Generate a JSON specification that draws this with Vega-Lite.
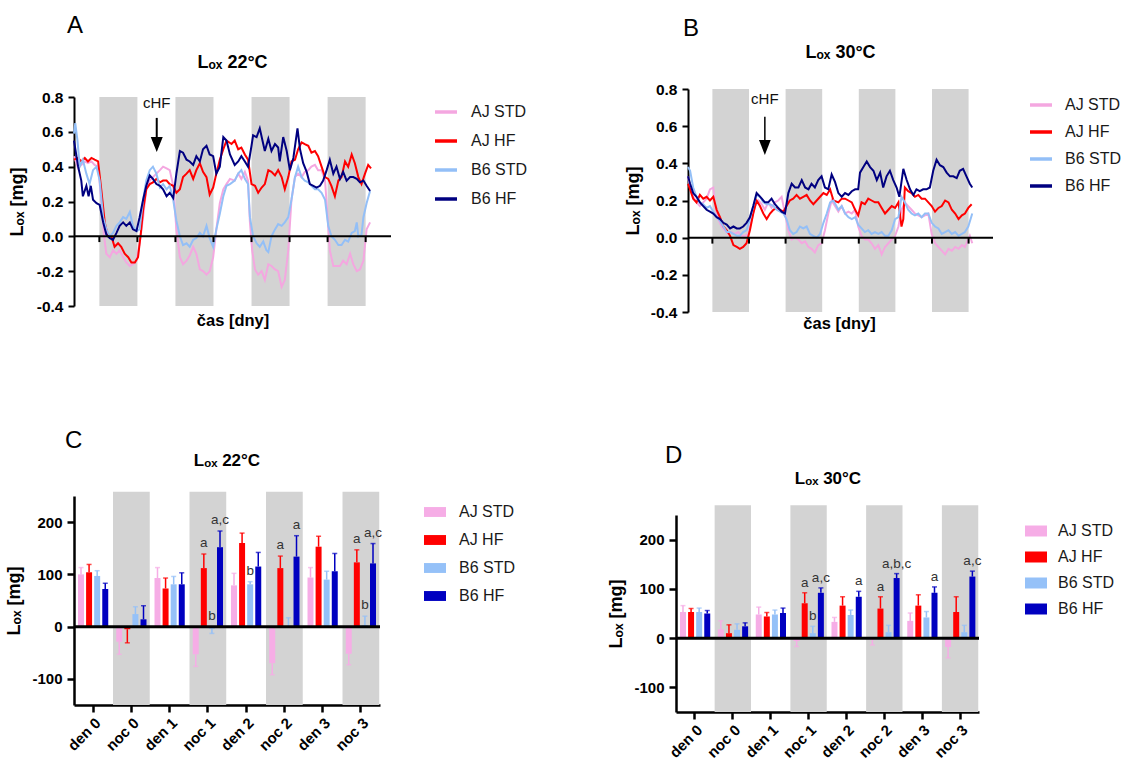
{
"$schema": "https://vega.github.io/schema/vega-lite/v6.json",
"background": "white",
"padding": {"left": 5, "top": 13, "right": 5, "bottom": 0},
"config": {
  "font": "Liberation Sans",
  "view": {"stroke": null},
  "axis": {"grid": false, "labelColor": "black", "titleColor": "black", "domainColor": "black", "tickColor": "black", "labelFontWeight": "bold", "titleFontWeight": "bold", "labelFontSize": 15.5, "titleFontSize": 16.5, "domainWidth": 2, "tickWidth": 2, "tickSize": 6, "labelPadding": 5, "titlePadding": 8, "labelOverlap": false},
  "legend": {"labelFontSize": 16, "labelColor": "#1a1a1a"},
  "title": {"color": "black"}
},
"datasets": {
  "nights": [{"s":8,"e":20},{"s":32,"e":44},{"s":56,"e":68},{"s":80,"e":92}],
  "tk": [{"t":8},{"t":20},{"t":32},{"t":44},{"t":56},{"t":68},{"t":80},{"t":92}],
  "nocs": [{"c":"noc 0"},{"c":"noc 1"},{"c":"noc 2"},{"c":"noc 3"}],
  "lineA": [
{"g":"AJ STD","h":0,"v":0.46},{"g":"AJ STD","h":1.3,"v":0.39},{"g":"AJ STD","h":2.3,"v":0.41},{"g":"AJ STD","h":3.4,"v":0.43},{"g":"AJ STD","h":4.4,"v":0.42},{"g":"AJ STD","h":5.5,"v":0.43},{"g":"AJ STD","h":6.5,"v":0.41},{"g":"AJ STD","h":7.6,"v":0.40},{"g":"AJ STD","h":8.6,"v":0.21},{"g":"AJ STD","h":9.5,"v":0},{"g":"AJ STD","h":10.2,"v":-0.10},{"g":"AJ STD","h":11.3,"v":-0.12},{"g":"AJ STD","h":12.3,"v":-0.08},{"g":"AJ STD","h":13.4,"v":-0.10},{"g":"AJ STD","h":14.4,"v":-0.08},{"g":"AJ STD","h":15.5,"v":-0.12},{"g":"AJ STD","h":16.5,"v":-0.15},{"g":"AJ STD","h":17.6,"v":-0.17},{"g":"AJ STD","h":18.6,"v":-0.16},{"g":"AJ STD","h":19.7,"v":-0.14},{"g":"AJ STD","h":20.7,"v":-0.04},{"g":"AJ STD","h":21.8,"v":0.11},{"g":"AJ STD","h":22.8,"v":0.27},{"g":"AJ STD","h":23.9,"v":0.32},{"g":"AJ STD","h":24.9,"v":0.34},{"g":"AJ STD","h":26,"v":0.36},{"g":"AJ STD","h":27.1,"v":0.38},{"g":"AJ STD","h":28.1,"v":0.40},{"g":"AJ STD","h":29.2,"v":0.39},{"g":"AJ STD","h":30.2,"v":0.38},{"g":"AJ STD","h":31.3,"v":0.29},{"g":"AJ STD","h":32.3,"v":0.04},{"g":"AJ STD","h":33.4,"v":-0.12},{"g":"AJ STD","h":34.4,"v":-0.16},{"g":"AJ STD","h":35.5,"v":-0.14},{"g":"AJ STD","h":36.5,"v":-0.11},{"g":"AJ STD","h":37.6,"v":-0.06},{"g":"AJ STD","h":38.6,"v":-0.10},{"g":"AJ STD","h":39.7,"v":-0.19},{"g":"AJ STD","h":40.7,"v":-0.20},{"g":"AJ STD","h":41.8,"v":-0.22},{"g":"AJ STD","h":42.8,"v":-0.20},{"g":"AJ STD","h":43.9,"v":-0.12},{"g":"AJ STD","h":44.9,"v":0.04},{"g":"AJ STD","h":46,"v":0.19},{"g":"AJ STD","h":47.1,"v":0.27},{"g":"AJ STD","h":48.1,"v":0.30},{"g":"AJ STD","h":49.2,"v":0.33},{"g":"AJ STD","h":50.7,"v":0.32},{"g":"AJ STD","h":51.8,"v":0.36},{"g":"AJ STD","h":52.8,"v":0.33},{"g":"AJ STD","h":53.9,"v":0.37},{"g":"AJ STD","h":54.9,"v":0.32},{"g":"AJ STD","h":55.5,"v":0.08},{"g":"AJ STD","h":56.2,"v":-0.08},{"g":"AJ STD","h":57.1,"v":-0.19},{"g":"AJ STD","h":58.1,"v":-0.22},{"g":"AJ STD","h":59.2,"v":-0.20},{"g":"AJ STD","h":60.2,"v":-0.25},{"g":"AJ STD","h":61.3,"v":-0.16},{"g":"AJ STD","h":62.3,"v":-0.17},{"g":"AJ STD","h":63.4,"v":-0.19},{"g":"AJ STD","h":64.4,"v":-0.20},{"g":"AJ STD","h":65.5,"v":-0.29},{"g":"AJ STD","h":66.5,"v":-0.25},{"g":"AJ STD","h":67.6,"v":-0.08},{"g":"AJ STD","h":68.6,"v":0.21},{"g":"AJ STD","h":69.7,"v":0.34},{"g":"AJ STD","h":70.7,"v":0.36},{"g":"AJ STD","h":71.8,"v":0.34},{"g":"AJ STD","h":72.8,"v":0.37},{"g":"AJ STD","h":73.9,"v":0.38},{"g":"AJ STD","h":74.9,"v":0.40},{"g":"AJ STD","h":76,"v":0.41},{"g":"AJ STD","h":77,"v":0.38},{"g":"AJ STD","h":78.1,"v":0.38},{"g":"AJ STD","h":79.2,"v":0.32},{"g":"AJ STD","h":80,"v":0.11},{"g":"AJ STD","h":80.7,"v":-0.08},{"g":"AJ STD","h":81.8,"v":-0.17},{"g":"AJ STD","h":82.8,"v":-0.17},{"g":"AJ STD","h":83.9,"v":-0.17},{"g":"AJ STD","h":84.9,"v":-0.14},{"g":"AJ STD","h":86,"v":-0.16},{"g":"AJ STD","h":87.1,"v":-0.10},{"g":"AJ STD","h":88.1,"v":-0.16},{"g":"AJ STD","h":89.2,"v":-0.20},{"g":"AJ STD","h":90.2,"v":-0.19},{"g":"AJ STD","h":91.3,"v":-0.14},{"g":"AJ STD","h":92.3,"v":0.04},{"g":"AJ STD","h":93.4,"v":0.08},
{"g":"AJ HF","h":0,"v":0.44},{"g":"AJ HF","h":1.3,"v":0.45},{"g":"AJ HF","h":2.3,"v":0.43},{"g":"AJ HF","h":3.4,"v":0.45},{"g":"AJ HF","h":4.4,"v":0.43},{"g":"AJ HF","h":5.5,"v":0.45},{"g":"AJ HF","h":6.5,"v":0.44},{"g":"AJ HF","h":7.6,"v":0.43},{"g":"AJ HF","h":8.6,"v":0.27},{"g":"AJ HF","h":9.7,"v":0.08},{"g":"AJ HF","h":10.7,"v":0},{"g":"AJ HF","h":11.8,"v":0},{"g":"AJ HF","h":12.8,"v":-0.06},{"g":"AJ HF","h":13.9,"v":-0.04},{"g":"AJ HF","h":14.9,"v":-0.06},{"g":"AJ HF","h":16,"v":-0.10},{"g":"AJ HF","h":17.1,"v":-0.12},{"g":"AJ HF","h":18.1,"v":-0.15},{"g":"AJ HF","h":19.2,"v":-0.15},{"g":"AJ HF","h":20.2,"v":-0.12},{"g":"AJ HF","h":21.1,"v":0.02},{"g":"AJ HF","h":21.8,"v":0.15},{"g":"AJ HF","h":22.8,"v":0.27},{"g":"AJ HF","h":23.9,"v":0.30},{"g":"AJ HF","h":24.9,"v":0.31},{"g":"AJ HF","h":26,"v":0.33},{"g":"AJ HF","h":27.1,"v":0.31},{"g":"AJ HF","h":28.1,"v":0.32},{"g":"AJ HF","h":29.2,"v":0.32},{"g":"AJ HF","h":30.2,"v":0.30},{"g":"AJ HF","h":31.3,"v":0.29},{"g":"AJ HF","h":32.3,"v":0.25},{"g":"AJ HF","h":33.4,"v":0.27},{"g":"AJ HF","h":34.4,"v":0.34},{"g":"AJ HF","h":35.5,"v":0.36},{"g":"AJ HF","h":36.5,"v":0.38},{"g":"AJ HF","h":37.6,"v":0.33},{"g":"AJ HF","h":38.6,"v":0.38},{"g":"AJ HF","h":39.7,"v":0.42},{"g":"AJ HF","h":40.7,"v":0.37},{"g":"AJ HF","h":41.8,"v":0.34},{"g":"AJ HF","h":42.8,"v":0.24},{"g":"AJ HF","h":43.9,"v":0.28},{"g":"AJ HF","h":44.9,"v":0.36},{"g":"AJ HF","h":46,"v":0.44},{"g":"AJ HF","h":47.1,"v":0.50},{"g":"AJ HF","h":48.1,"v":0.55},{"g":"AJ HF","h":49.7,"v":0.53},{"g":"AJ HF","h":50.7,"v":0.55},{"g":"AJ HF","h":51.8,"v":0.50},{"g":"AJ HF","h":52.8,"v":0.51},{"g":"AJ HF","h":53.9,"v":0.47},{"g":"AJ HF","h":54.9,"v":0.44},{"g":"AJ HF","h":56,"v":0.30},{"g":"AJ HF","h":57.1,"v":0.29},{"g":"AJ HF","h":58.1,"v":0.25},{"g":"AJ HF","h":59.2,"v":0.28},{"g":"AJ HF","h":60.2,"v":0.30},{"g":"AJ HF","h":61.3,"v":0.38},{"g":"AJ HF","h":62.3,"v":0.37},{"g":"AJ HF","h":63.4,"v":0.35},{"g":"AJ HF","h":64.4,"v":0.38},{"g":"AJ HF","h":65.5,"v":0.34},{"g":"AJ HF","h":66.5,"v":0.27},{"g":"AJ HF","h":67.6,"v":0.34},{"g":"AJ HF","h":68.6,"v":0.43},{"g":"AJ HF","h":69.7,"v":0.44},{"g":"AJ HF","h":70.7,"v":0.50},{"g":"AJ HF","h":71.8,"v":0.54},{"g":"AJ HF","h":72.8,"v":0.53},{"g":"AJ HF","h":73.9,"v":0.52},{"g":"AJ HF","h":74.9,"v":0.48},{"g":"AJ HF","h":76,"v":0.49},{"g":"AJ HF","h":77,"v":0.46},{"g":"AJ HF","h":78.1,"v":0.40},{"g":"AJ HF","h":79.2,"v":0.34},{"g":"AJ HF","h":80.2,"v":0.33},{"g":"AJ HF","h":81.2,"v":0.29},{"g":"AJ HF","h":82.3,"v":0.23},{"g":"AJ HF","h":83.4,"v":0.32},{"g":"AJ HF","h":84.4,"v":0.34},{"g":"AJ HF","h":85.5,"v":0.43},{"g":"AJ HF","h":86.5,"v":0.40},{"g":"AJ HF","h":87.6,"v":0.47},{"g":"AJ HF","h":88.6,"v":0.42},{"g":"AJ HF","h":89.7,"v":0.34},{"g":"AJ HF","h":90.7,"v":0.30},{"g":"AJ HF","h":91.8,"v":0.36},{"g":"AJ HF","h":92.8,"v":0.41},{"g":"AJ HF","h":93.7,"v":0.39},
{"g":"B6 STD","h":0,"v":0.59},{"g":"B6 STD","h":0.4,"v":0.65},{"g":"B6 STD","h":1.1,"v":0.55},{"g":"B6 STD","h":1.8,"v":0.40},{"g":"B6 STD","h":2.8,"v":0.44},{"g":"B6 STD","h":3.9,"v":0.36},{"g":"B6 STD","h":4.9,"v":0.30},{"g":"B6 STD","h":6,"v":0.38},{"g":"B6 STD","h":7.1,"v":0.40},{"g":"B6 STD","h":8.1,"v":0.32},{"g":"B6 STD","h":9.2,"v":0.11},{"g":"B6 STD","h":10.2,"v":0.04},{"g":"B6 STD","h":11.3,"v":0},{"g":"B6 STD","h":12.3,"v":0.02},{"g":"B6 STD","h":13.4,"v":0.06},{"g":"B6 STD","h":14.4,"v":0.08},{"g":"B6 STD","h":15.5,"v":0.11},{"g":"B6 STD","h":16.5,"v":0.10},{"g":"B6 STD","h":17.6,"v":0.14},{"g":"B6 STD","h":18.6,"v":0.06},{"g":"B6 STD","h":19.7,"v":0.03},{"g":"B6 STD","h":20.7,"v":0.04},{"g":"B6 STD","h":21.8,"v":0.21},{"g":"B6 STD","h":22.8,"v":0.32},{"g":"B6 STD","h":23.9,"v":0.38},{"g":"B6 STD","h":24.9,"v":0.40},{"g":"B6 STD","h":26,"v":0.36},{"g":"B6 STD","h":27.1,"v":0.28},{"g":"B6 STD","h":28.1,"v":0.30},{"g":"B6 STD","h":29.2,"v":0.27},{"g":"B6 STD","h":30.2,"v":0.29},{"g":"B6 STD","h":31.3,"v":0.21},{"g":"B6 STD","h":32.3,"v":0.09},{"g":"B6 STD","h":33.4,"v":0},{"g":"B6 STD","h":34.4,"v":-0.05},{"g":"B6 STD","h":35.5,"v":-0.04},{"g":"B6 STD","h":36.5,"v":-0.06},{"g":"B6 STD","h":37.6,"v":-0.02},{"g":"B6 STD","h":38.6,"v":-0.01},{"g":"B6 STD","h":39.7,"v":0.02},{"g":"B6 STD","h":40.7,"v":0},{"g":"B6 STD","h":41.8,"v":0.06},{"g":"B6 STD","h":42.8,"v":-0.01},{"g":"B6 STD","h":43.9,"v":-0.06},{"g":"B6 STD","h":44.9,"v":0.04},{"g":"B6 STD","h":46,"v":0.13},{"g":"B6 STD","h":47.1,"v":0.23},{"g":"B6 STD","h":48.1,"v":0.29},{"g":"B6 STD","h":49.2,"v":0.30},{"g":"B6 STD","h":50.7,"v":0.32},{"g":"B6 STD","h":51.8,"v":0.36},{"g":"B6 STD","h":52.8,"v":0.38},{"g":"B6 STD","h":53.9,"v":0.33},{"g":"B6 STD","h":54.9,"v":0.30},{"g":"B6 STD","h":55.5,"v":0.11},{"g":"B6 STD","h":56.5,"v":0},{"g":"B6 STD","h":57.6,"v":-0.04},{"g":"B6 STD","h":58.6,"v":-0.06},{"g":"B6 STD","h":59.7,"v":-0.03},{"g":"B6 STD","h":60.7,"v":-0.08},{"g":"B6 STD","h":61.3,"v":-0.09},{"g":"B6 STD","h":62.3,"v":0},{"g":"B6 STD","h":63.4,"v":0.04},{"g":"B6 STD","h":64.4,"v":0.07},{"g":"B6 STD","h":65.5,"v":0.06},{"g":"B6 STD","h":66.5,"v":0.08},{"g":"B6 STD","h":67.6,"v":0.11},{"g":"B6 STD","h":68.6,"v":0.21},{"g":"B6 STD","h":69.7,"v":0.34},{"g":"B6 STD","h":70.7,"v":0.40},{"g":"B6 STD","h":71.8,"v":0.34},{"g":"B6 STD","h":72.8,"v":0.32},{"g":"B6 STD","h":73.9,"v":0.31},{"g":"B6 STD","h":74.9,"v":0.29},{"g":"B6 STD","h":76,"v":0.27},{"g":"B6 STD","h":77,"v":0.27},{"g":"B6 STD","h":78.1,"v":0.25},{"g":"B6 STD","h":79.2,"v":0.21},{"g":"B6 STD","h":80.2,"v":0.06},{"g":"B6 STD","h":81.2,"v":0},{"g":"B6 STD","h":82.3,"v":-0.02},{"g":"B6 STD","h":83.4,"v":-0.05},{"g":"B6 STD","h":84.4,"v":-0.05},{"g":"B6 STD","h":85.5,"v":-0.02},{"g":"B6 STD","h":86.5,"v":-0.03},{"g":"B6 STD","h":87.6,"v":0.02},{"g":"B6 STD","h":88.6,"v":0.03},{"g":"B6 STD","h":89.2,"v":0.08},{"g":"B6 STD","h":89.7,"v":0},{"g":"B6 STD","h":90.7,"v":0.01},{"g":"B6 STD","h":91.3,"v":0.11},{"g":"B6 STD","h":92.3,"v":0.19},{"g":"B6 STD","h":93.4,"v":0.26},
{"g":"B6 HF","h":0,"v":0.55},{"g":"B6 HF","h":1.3,"v":0.40},{"g":"B6 HF","h":2.3,"v":0.32},{"g":"B6 HF","h":2.8,"v":0.23},{"g":"B6 HF","h":3.9,"v":0.29},{"g":"B6 HF","h":4.6,"v":0.23},{"g":"B6 HF","h":5.3,"v":0.29},{"g":"B6 HF","h":6,"v":0.21},{"g":"B6 HF","h":7.1,"v":0.19},{"g":"B6 HF","h":8.1,"v":0.18},{"g":"B6 HF","h":9.2,"v":0.08},{"g":"B6 HF","h":10.2,"v":0.01},{"g":"B6 HF","h":11.3,"v":-0.01},{"g":"B6 HF","h":12.3,"v":-0.02},{"g":"B6 HF","h":13.4,"v":0.02},{"g":"B6 HF","h":14.4,"v":0.06},{"g":"B6 HF","h":15.5,"v":0.08},{"g":"B6 HF","h":16.5,"v":0.06},{"g":"B6 HF","h":17.6,"v":0.08},{"g":"B6 HF","h":18.6,"v":0.04},{"g":"B6 HF","h":19.7,"v":0.03},{"g":"B6 HF","h":20.7,"v":0.11},{"g":"B6 HF","h":21.8,"v":0.21},{"g":"B6 HF","h":22.8,"v":0.29},{"g":"B6 HF","h":23.9,"v":0.35},{"g":"B6 HF","h":24.9,"v":0.33},{"g":"B6 HF","h":26,"v":0.30},{"g":"B6 HF","h":27.1,"v":0.29},{"g":"B6 HF","h":28.1,"v":0.27},{"g":"B6 HF","h":29.2,"v":0.23},{"g":"B6 HF","h":30.2,"v":0.25},{"g":"B6 HF","h":31.3,"v":0.22},{"g":"B6 HF","h":32.3,"v":0.36},{"g":"B6 HF","h":33.4,"v":0.49},{"g":"B6 HF","h":34.4,"v":0.48},{"g":"B6 HF","h":35.5,"v":0.44},{"g":"B6 HF","h":36.5,"v":0.43},{"g":"B6 HF","h":37.6,"v":0.41},{"g":"B6 HF","h":38.6,"v":0.46},{"g":"B6 HF","h":39.7,"v":0.43},{"g":"B6 HF","h":40.7,"v":0.50},{"g":"B6 HF","h":41.8,"v":0.52},{"g":"B6 HF","h":42.8,"v":0.47},{"g":"B6 HF","h":43.9,"v":0.46},{"g":"B6 HF","h":44.9,"v":0.36},{"g":"B6 HF","h":46,"v":0.40},{"g":"B6 HF","h":47.1,"v":0.57},{"g":"B6 HF","h":48.1,"v":0.55},{"g":"B6 HF","h":49.2,"v":0.47},{"g":"B6 HF","h":50.7,"v":0.41},{"g":"B6 HF","h":51.8,"v":0.43},{"g":"B6 HF","h":52.8,"v":0.46},{"g":"B6 HF","h":53.9,"v":0.43},{"g":"B6 HF","h":54.9,"v":0.40},{"g":"B6 HF","h":56,"v":0.52},{"g":"B6 HF","h":56.5,"v":0.58},{"g":"B6 HF","h":57.6,"v":0.57},{"g":"B6 HF","h":58.6,"v":0.62},{"g":"B6 HF","h":59.7,"v":0.53},{"g":"B6 HF","h":60.2,"v":0.49},{"g":"B6 HF","h":61.3,"v":0.56},{"g":"B6 HF","h":62.3,"v":0.49},{"g":"B6 HF","h":63.4,"v":0.53},{"g":"B6 HF","h":64.4,"v":0.51},{"g":"B6 HF","h":64.9,"v":0.43},{"g":"B6 HF","h":66,"v":0.57},{"g":"B6 HF","h":67.1,"v":0.49},{"g":"B6 HF","h":68.1,"v":0.38},{"g":"B6 HF","h":69.2,"v":0.45},{"g":"B6 HF","h":70.5,"v":0.62},{"g":"B6 HF","h":71.3,"v":0.50},{"g":"B6 HF","h":72.3,"v":0.42},{"g":"B6 HF","h":73.4,"v":0.37},{"g":"B6 HF","h":74.4,"v":0.30},{"g":"B6 HF","h":75.5,"v":0.29},{"g":"B6 HF","h":76.5,"v":0.28},{"g":"B6 HF","h":77.6,"v":0.29},{"g":"B6 HF","h":78.6,"v":0.32},{"g":"B6 HF","h":79.7,"v":0.38},{"g":"B6 HF","h":80.7,"v":0.44},{"g":"B6 HF","h":81.8,"v":0.36},{"g":"B6 HF","h":82.8,"v":0.40},{"g":"B6 HF","h":83.9,"v":0.33},{"g":"B6 HF","h":84.9,"v":0.37},{"g":"B6 HF","h":86,"v":0.32},{"g":"B6 HF","h":87.1,"v":0.34},{"g":"B6 HF","h":88.1,"v":0.34},{"g":"B6 HF","h":89.2,"v":0.33},{"g":"B6 HF","h":90.2,"v":0.31},{"g":"B6 HF","h":91.3,"v":0.32},{"g":"B6 HF","h":92.3,"v":0.29},{"g":"B6 HF","h":93.4,"v":0.26}
  ],
  "lineB": [
{"g":"AJ STD","h":0,"v":0.33},{"g":"AJ STD","h":0.7,"v":0.27},{"g":"AJ STD","h":1.7,"v":0.22},{"g":"AJ STD","h":2.8,"v":0.19},{"g":"AJ STD","h":3.9,"v":0.17},{"g":"AJ STD","h":5,"v":0.19},{"g":"AJ STD","h":6.1,"v":0.21},{"g":"AJ STD","h":7.2,"v":0.26},{"g":"AJ STD","h":8.3,"v":0.27},{"g":"AJ STD","h":8.9,"v":0.17},{"g":"AJ STD","h":9.9,"v":0.10},{"g":"AJ STD","h":11,"v":0.06},{"g":"AJ STD","h":12.1,"v":0.04},{"g":"AJ STD","h":13.2,"v":0.02},{"g":"AJ STD","h":14.3,"v":0.03},{"g":"AJ STD","h":15.4,"v":0.02},{"g":"AJ STD","h":16.5,"v":0.03},{"g":"AJ STD","h":17.6,"v":0.01},{"g":"AJ STD","h":18.7,"v":0.01},{"g":"AJ STD","h":19.8,"v":0.02},{"g":"AJ STD","h":20.9,"v":0.10},{"g":"AJ STD","h":22,"v":0.17},{"g":"AJ STD","h":23.1,"v":0.20},{"g":"AJ STD","h":24.2,"v":0.18},{"g":"AJ STD","h":25.2,"v":0.15},{"g":"AJ STD","h":26.3,"v":0.19},{"g":"AJ STD","h":27.4,"v":0.16},{"g":"AJ STD","h":28.5,"v":0.19},{"g":"AJ STD","h":29.6,"v":0.20},{"g":"AJ STD","h":30.7,"v":0.22},{"g":"AJ STD","h":31.8,"v":0.13},{"g":"AJ STD","h":32.9,"v":0.04},{"g":"AJ STD","h":34,"v":-0.01},{"g":"AJ STD","h":35.1,"v":0},{"g":"AJ STD","h":36.2,"v":-0.01},{"g":"AJ STD","h":37.3,"v":-0.03},{"g":"AJ STD","h":38.4,"v":-0.02},{"g":"AJ STD","h":39.5,"v":-0.05},{"g":"AJ STD","h":40.5,"v":-0.06},{"g":"AJ STD","h":41.6,"v":-0.08},{"g":"AJ STD","h":42.7,"v":-0.04},{"g":"AJ STD","h":43.8,"v":-0.03},{"g":"AJ STD","h":44.9,"v":0.04},{"g":"AJ STD","h":46,"v":0.13},{"g":"AJ STD","h":47.1,"v":0.20},{"g":"AJ STD","h":48.2,"v":0.17},{"g":"AJ STD","h":49.3,"v":0.14},{"g":"AJ STD","h":50.4,"v":0.17},{"g":"AJ STD","h":51.5,"v":0.13},{"g":"AJ STD","h":52.6,"v":0.14},{"g":"AJ STD","h":53.7,"v":0.13},{"g":"AJ STD","h":54.8,"v":0.15},{"g":"AJ STD","h":55.8,"v":0.06},{"g":"AJ STD","h":56.9,"v":0.01},{"g":"AJ STD","h":58,"v":-0.01},{"g":"AJ STD","h":59.1,"v":-0.01},{"g":"AJ STD","h":60.2,"v":-0.03},{"g":"AJ STD","h":61.3,"v":-0.06},{"g":"AJ STD","h":62.4,"v":-0.04},{"g":"AJ STD","h":63.5,"v":-0.09},{"g":"AJ STD","h":64.6,"v":-0.05},{"g":"AJ STD","h":65.7,"v":-0.03},{"g":"AJ STD","h":66.8,"v":-0.01},{"g":"AJ STD","h":67.9,"v":0.01},{"g":"AJ STD","h":69,"v":0.06},{"g":"AJ STD","h":70,"v":0.15},{"g":"AJ STD","h":71.1,"v":0.19},{"g":"AJ STD","h":72.2,"v":0.17},{"g":"AJ STD","h":73.3,"v":0.15},{"g":"AJ STD","h":74.4,"v":0.13},{"g":"AJ STD","h":75.5,"v":0.12},{"g":"AJ STD","h":76.6,"v":0.11},{"g":"AJ STD","h":77.7,"v":0.12},{"g":"AJ STD","h":78.8,"v":0.13},{"g":"AJ STD","h":79.9,"v":0.02},{"g":"AJ STD","h":81,"v":-0.03},{"g":"AJ STD","h":82.1,"v":-0.05},{"g":"AJ STD","h":83.2,"v":-0.07},{"g":"AJ STD","h":84.3,"v":-0.09},{"g":"AJ STD","h":85.4,"v":-0.06},{"g":"AJ STD","h":86.5,"v":-0.07},{"g":"AJ STD","h":87.6,"v":-0.05},{"g":"AJ STD","h":88.7,"v":-0.06},{"g":"AJ STD","h":89.8,"v":-0.04},{"g":"AJ STD","h":90.8,"v":-0.05},{"g":"AJ STD","h":91.3,"v":-0.03},{"g":"AJ STD","h":92.4,"v":0.01},{"g":"AJ STD","h":93.2,"v":-0.03},
{"g":"AJ HF","h":0,"v":0.29},{"g":"AJ HF","h":0.7,"v":0.26},{"g":"AJ HF","h":1.7,"v":0.21},{"g":"AJ HF","h":2.8,"v":0.19},{"g":"AJ HF","h":3.9,"v":0.23},{"g":"AJ HF","h":5,"v":0.21},{"g":"AJ HF","h":6.1,"v":0.22},{"g":"AJ HF","h":7.2,"v":0.20},{"g":"AJ HF","h":8.3,"v":0.22},{"g":"AJ HF","h":9.4,"v":0.15},{"g":"AJ HF","h":10.5,"v":0.11},{"g":"AJ HF","h":11.6,"v":0.06},{"g":"AJ HF","h":12.7,"v":0.04},{"g":"AJ HF","h":13.8,"v":0.01},{"g":"AJ HF","h":14.9,"v":-0.04},{"g":"AJ HF","h":16,"v":-0.05},{"g":"AJ HF","h":17,"v":-0.06},{"g":"AJ HF","h":18.1,"v":-0.05},{"g":"AJ HF","h":19.2,"v":-0.03},{"g":"AJ HF","h":20.3,"v":0.04},{"g":"AJ HF","h":21.4,"v":0.13},{"g":"AJ HF","h":22.5,"v":0.20},{"g":"AJ HF","h":23.6,"v":0.17},{"g":"AJ HF","h":24.7,"v":0.13},{"g":"AJ HF","h":25.8,"v":0.10},{"g":"AJ HF","h":26.9,"v":0.13},{"g":"AJ HF","h":28,"v":0.15},{"g":"AJ HF","h":29.1,"v":0.16},{"g":"AJ HF","h":30.2,"v":0.15},{"g":"AJ HF","h":31.3,"v":0.14},{"g":"AJ HF","h":32.3,"v":0.17},{"g":"AJ HF","h":33.4,"v":0.20},{"g":"AJ HF","h":34.5,"v":0.21},{"g":"AJ HF","h":35.6,"v":0.23},{"g":"AJ HF","h":36.7,"v":0.21},{"g":"AJ HF","h":37.8,"v":0.22},{"g":"AJ HF","h":38.9,"v":0.23},{"g":"AJ HF","h":40,"v":0.20},{"g":"AJ HF","h":41.1,"v":0.18},{"g":"AJ HF","h":42.2,"v":0.20},{"g":"AJ HF","h":43.3,"v":0.22},{"g":"AJ HF","h":44.4,"v":0.24},{"g":"AJ HF","h":45.5,"v":0.23},{"g":"AJ HF","h":46.6,"v":0.26},{"g":"AJ HF","h":47.7,"v":0.20},{"g":"AJ HF","h":49.3,"v":0.19},{"g":"AJ HF","h":50.4,"v":0.21},{"g":"AJ HF","h":51.5,"v":0.21},{"g":"AJ HF","h":52.6,"v":0.20},{"g":"AJ HF","h":53.7,"v":0.19},{"g":"AJ HF","h":54.8,"v":0.15},{"g":"AJ HF","h":55.8,"v":0.12},{"g":"AJ HF","h":56.9,"v":0.19},{"g":"AJ HF","h":58,"v":0.18},{"g":"AJ HF","h":59.1,"v":0.21},{"g":"AJ HF","h":60.2,"v":0.20},{"g":"AJ HF","h":61.3,"v":0.19},{"g":"AJ HF","h":62.4,"v":0.19},{"g":"AJ HF","h":63.5,"v":0.16},{"g":"AJ HF","h":64.6,"v":0.13},{"g":"AJ HF","h":65.7,"v":0.15},{"g":"AJ HF","h":66.8,"v":0.17},{"g":"AJ HF","h":67.9,"v":0.16},{"g":"AJ HF","h":69,"v":0.19},{"g":"AJ HF","h":70,"v":0.06},{"g":"AJ HF","h":70.6,"v":0.10},{"g":"AJ HF","h":71.1,"v":0.27},{"g":"AJ HF","h":72.2,"v":0.25},{"g":"AJ HF","h":73.3,"v":0.24},{"g":"AJ HF","h":74.4,"v":0.22},{"g":"AJ HF","h":75.5,"v":0.23},{"g":"AJ HF","h":76.6,"v":0.21},{"g":"AJ HF","h":77.7,"v":0.21},{"g":"AJ HF","h":78.8,"v":0.19},{"g":"AJ HF","h":79.9,"v":0.17},{"g":"AJ HF","h":81,"v":0.14},{"g":"AJ HF","h":82.1,"v":0.16},{"g":"AJ HF","h":83.2,"v":0.17},{"g":"AJ HF","h":84.3,"v":0.20},{"g":"AJ HF","h":85.4,"v":0.19},{"g":"AJ HF","h":86.5,"v":0.15},{"g":"AJ HF","h":87.6,"v":0.13},{"g":"AJ HF","h":88.7,"v":0.10},{"g":"AJ HF","h":89.8,"v":0.12},{"g":"AJ HF","h":90.8,"v":0.13},{"g":"AJ HF","h":91.9,"v":0.16},{"g":"AJ HF","h":93,"v":0.18},
{"g":"B6 STD","h":0,"v":0.38},{"g":"B6 STD","h":0.7,"v":0.36},{"g":"B6 STD","h":1.7,"v":0.27},{"g":"B6 STD","h":2.8,"v":0.22},{"g":"B6 STD","h":3.9,"v":0.19},{"g":"B6 STD","h":5,"v":0.18},{"g":"B6 STD","h":6.1,"v":0.16},{"g":"B6 STD","h":7.2,"v":0.17},{"g":"B6 STD","h":8.3,"v":0.14},{"g":"B6 STD","h":9.4,"v":0.11},{"g":"B6 STD","h":10.5,"v":0.09},{"g":"B6 STD","h":11.6,"v":0.06},{"g":"B6 STD","h":12.7,"v":0.03},{"g":"B6 STD","h":13.8,"v":0.03},{"g":"B6 STD","h":14.9,"v":0.02},{"g":"B6 STD","h":16,"v":0.01},{"g":"B6 STD","h":17,"v":0.01},{"g":"B6 STD","h":18.1,"v":0.03},{"g":"B6 STD","h":19.2,"v":0.04},{"g":"B6 STD","h":20.3,"v":0.10},{"g":"B6 STD","h":21.4,"v":0.17},{"g":"B6 STD","h":22.5,"v":0.23},{"g":"B6 STD","h":23.6,"v":0.22},{"g":"B6 STD","h":24.7,"v":0.19},{"g":"B6 STD","h":25.8,"v":0.18},{"g":"B6 STD","h":26.9,"v":0.18},{"g":"B6 STD","h":28,"v":0.17},{"g":"B6 STD","h":29.1,"v":0.15},{"g":"B6 STD","h":30.2,"v":0.14},{"g":"B6 STD","h":31.3,"v":0.13},{"g":"B6 STD","h":32.3,"v":0.10},{"g":"B6 STD","h":33.4,"v":0.04},{"g":"B6 STD","h":34.5,"v":0.02},{"g":"B6 STD","h":35.6,"v":0.03},{"g":"B6 STD","h":36.7,"v":0.06},{"g":"B6 STD","h":37.8,"v":0.05},{"g":"B6 STD","h":38.9,"v":0.06},{"g":"B6 STD","h":40,"v":0.02},{"g":"B6 STD","h":41.1,"v":0.01},{"g":"B6 STD","h":42.2,"v":0},{"g":"B6 STD","h":43.3,"v":0.02},{"g":"B6 STD","h":44.4,"v":0.08},{"g":"B6 STD","h":45.5,"v":0.13},{"g":"B6 STD","h":46.6,"v":0.19},{"g":"B6 STD","h":47.7,"v":0.20},{"g":"B6 STD","h":49.3,"v":0.15},{"g":"B6 STD","h":50.4,"v":0.17},{"g":"B6 STD","h":51.5,"v":0.13},{"g":"B6 STD","h":52.6,"v":0.11},{"g":"B6 STD","h":53.7,"v":0.10},{"g":"B6 STD","h":54.8,"v":0.11},{"g":"B6 STD","h":55.8,"v":0.07},{"g":"B6 STD","h":56.9,"v":0.05},{"g":"B6 STD","h":58,"v":0.03},{"g":"B6 STD","h":59.1,"v":0.04},{"g":"B6 STD","h":60.2,"v":0.02},{"g":"B6 STD","h":61.3,"v":0.03},{"g":"B6 STD","h":62.4,"v":0.02},{"g":"B6 STD","h":63.5,"v":0.03},{"g":"B6 STD","h":64.6,"v":0.01},{"g":"B6 STD","h":65.7,"v":0.01},{"g":"B6 STD","h":66.8,"v":0.04},{"g":"B6 STD","h":67.9,"v":0.10},{"g":"B6 STD","h":69,"v":0.11},{"g":"B6 STD","h":70,"v":0.22},{"g":"B6 STD","h":71.1,"v":0.19},{"g":"B6 STD","h":72.2,"v":0.15},{"g":"B6 STD","h":73.3,"v":0.13},{"g":"B6 STD","h":74.4,"v":0.12},{"g":"B6 STD","h":75.5,"v":0.13},{"g":"B6 STD","h":76.6,"v":0.11},{"g":"B6 STD","h":77.7,"v":0.13},{"g":"B6 STD","h":78.8,"v":0.13},{"g":"B6 STD","h":79.9,"v":0.08},{"g":"B6 STD","h":81,"v":0.06},{"g":"B6 STD","h":82.1,"v":0.05},{"g":"B6 STD","h":83.2,"v":0.02},{"g":"B6 STD","h":84.3,"v":0.03},{"g":"B6 STD","h":85.4,"v":0.04},{"g":"B6 STD","h":86.5,"v":0.02},{"g":"B6 STD","h":87.6,"v":0.03},{"g":"B6 STD","h":88.7,"v":0.01},{"g":"B6 STD","h":89.8,"v":0.02},{"g":"B6 STD","h":90.8,"v":0.03},{"g":"B6 STD","h":91.9,"v":0.06},{"g":"B6 STD","h":93.2,"v":0.13},
{"g":"B6 HF","h":0,"v":0.33},{"g":"B6 HF","h":0.7,"v":0.29},{"g":"B6 HF","h":1.7,"v":0.24},{"g":"B6 HF","h":2.8,"v":0.22},{"g":"B6 HF","h":3.9,"v":0.19},{"g":"B6 HF","h":5,"v":0.17},{"g":"B6 HF","h":6.1,"v":0.15},{"g":"B6 HF","h":7.2,"v":0.14},{"g":"B6 HF","h":8.3,"v":0.13},{"g":"B6 HF","h":9.4,"v":0.11},{"g":"B6 HF","h":10.5,"v":0.10},{"g":"B6 HF","h":11.6,"v":0.08},{"g":"B6 HF","h":12.7,"v":0.07},{"g":"B6 HF","h":13.8,"v":0.05},{"g":"B6 HF","h":14.9,"v":0.06},{"g":"B6 HF","h":16,"v":0.05},{"g":"B6 HF","h":17,"v":0.05},{"g":"B6 HF","h":18.1,"v":0.06},{"g":"B6 HF","h":19.2,"v":0.08},{"g":"B6 HF","h":20.3,"v":0.11},{"g":"B6 HF","h":21.4,"v":0.17},{"g":"B6 HF","h":22.5,"v":0.24},{"g":"B6 HF","h":23.1,"v":0.23},{"g":"B6 HF","h":24.2,"v":0.21},{"g":"B6 HF","h":25.2,"v":0.19},{"g":"B6 HF","h":26.3,"v":0.19},{"g":"B6 HF","h":27.4,"v":0.21},{"g":"B6 HF","h":28.5,"v":0.18},{"g":"B6 HF","h":29.6,"v":0.16},{"g":"B6 HF","h":30.7,"v":0.14},{"g":"B6 HF","h":31.8,"v":0.13},{"g":"B6 HF","h":32.9,"v":0.24},{"g":"B6 HF","h":34,"v":0.29},{"g":"B6 HF","h":35.1,"v":0.27},{"g":"B6 HF","h":36.2,"v":0.27},{"g":"B6 HF","h":37.3,"v":0.31},{"g":"B6 HF","h":38.4,"v":0.27},{"g":"B6 HF","h":39.5,"v":0.26},{"g":"B6 HF","h":40.5,"v":0.29},{"g":"B6 HF","h":41.6,"v":0.27},{"g":"B6 HF","h":42.7,"v":0.31},{"g":"B6 HF","h":43.8,"v":0.33},{"g":"B6 HF","h":44.9,"v":0.27},{"g":"B6 HF","h":46,"v":0.26},{"g":"B6 HF","h":47.1,"v":0.34},{"g":"B6 HF","h":48.2,"v":0.30},{"g":"B6 HF","h":49.3,"v":0.24},{"g":"B6 HF","h":50.4,"v":0.22},{"g":"B6 HF","h":51.5,"v":0.24},{"g":"B6 HF","h":52.6,"v":0.23},{"g":"B6 HF","h":53.7,"v":0.25},{"g":"B6 HF","h":54.8,"v":0.26},{"g":"B6 HF","h":55.8,"v":0.26},{"g":"B6 HF","h":56.4,"v":0.35},{"g":"B6 HF","h":57.5,"v":0.38},{"g":"B6 HF","h":58.6,"v":0.41},{"g":"B6 HF","h":59.7,"v":0.38},{"g":"B6 HF","h":60.8,"v":0.36},{"g":"B6 HF","h":61.9,"v":0.31},{"g":"B6 HF","h":63,"v":0.35},{"g":"B6 HF","h":64,"v":0.27},{"g":"B6 HF","h":65.1,"v":0.33},{"g":"B6 HF","h":66.2,"v":0.36},{"g":"B6 HF","h":67.3,"v":0.31},{"g":"B6 HF","h":68.4,"v":0.27},{"g":"B6 HF","h":69.3,"v":0.22},{"g":"B6 HF","h":70.6,"v":0.37},{"g":"B6 HF","h":71.7,"v":0.31},{"g":"B6 HF","h":72.8,"v":0.26},{"g":"B6 HF","h":73.9,"v":0.23},{"g":"B6 HF","h":74.9,"v":0.26},{"g":"B6 HF","h":76,"v":0.25},{"g":"B6 HF","h":77.1,"v":0.26},{"g":"B6 HF","h":78.2,"v":0.26},{"g":"B6 HF","h":79.3,"v":0.27},{"g":"B6 HF","h":80.4,"v":0.36},{"g":"B6 HF","h":81.5,"v":0.42},{"g":"B6 HF","h":82.6,"v":0.39},{"g":"B6 HF","h":83.7,"v":0.38},{"g":"B6 HF","h":84.8,"v":0.35},{"g":"B6 HF","h":85.9,"v":0.33},{"g":"B6 HF","h":87,"v":0.33},{"g":"B6 HF","h":88.1,"v":0.32},{"g":"B6 HF","h":89.1,"v":0.36},{"g":"B6 HF","h":90.2,"v":0.37},{"g":"B6 HF","h":91.3,"v":0.33},{"g":"B6 HF","h":92.4,"v":0.29},{"g":"B6 HF","h":93.2,"v":0.27}
  ],
  "barC": [
{"c":"den 0","g":"AJ STD","v":100,"e":13,"l":""},{"c":"den 0","g":"AJ HF","v":104,"e":15,"l":""},{"c":"den 0","g":"B6 STD","v":97,"e":10,"l":""},{"c":"den 0","g":"B6 HF","v":72,"e":11,"l":""},
{"c":"noc 0","g":"AJ STD","v":-29,"e":24,"l":""},{"c":"noc 0","g":"AJ HF","v":-5,"e":26,"l":""},{"c":"noc 0","g":"B6 STD","v":24,"e":14,"l":""},{"c":"noc 0","g":"B6 HF","v":14,"e":26,"l":""},
{"c":"den 1","g":"AJ STD","v":93,"e":20,"l":""},{"c":"den 1","g":"AJ HF","v":73,"e":20,"l":""},{"c":"den 1","g":"B6 STD","v":81,"e":15,"l":""},{"c":"den 1","g":"B6 HF","v":81,"e":22,"l":""},
{"c":"noc 1","g":"AJ STD","v":-53,"e":23,"l":""},{"c":"noc 1","g":"AJ HF","v":112,"e":27,"l":"a"},{"c":"noc 1","g":"B6 STD","v":-4,"e":9,"l":"b"},{"c":"noc 1","g":"B6 HF","v":152,"e":31,"l":"a,c"},
{"c":"den 2","g":"AJ STD","v":79,"e":23,"l":""},{"c":"den 2","g":"AJ HF","v":160,"e":19,"l":""},{"c":"den 2","g":"B6 STD","v":81,"e":5,"l":"b"},{"c":"den 2","g":"B6 HF","v":115,"e":27,"l":""},
{"c":"noc 2","g":"AJ STD","v":-70,"e":22,"l":""},{"c":"noc 2","g":"AJ HF","v":112,"e":23,"l":"a"},{"c":"noc 2","g":"B6 STD","v":1,"e":16,"l":""},{"c":"noc 2","g":"B6 HF","v":134,"e":40,"l":"a"},
{"c":"den 3","g":"AJ STD","v":94,"e":19,"l":""},{"c":"den 3","g":"AJ HF","v":153,"e":20,"l":""},{"c":"den 3","g":"B6 STD","v":90,"e":16,"l":""},{"c":"den 3","g":"B6 HF","v":106,"e":34,"l":""},
{"c":"noc 3","g":"AJ STD","v":-52,"e":21,"l":""},{"c":"noc 3","g":"AJ HF","v":123,"e":24,"l":"a"},{"c":"noc 3","g":"B6 STD","v":3,"e":17,"l":"b"},{"c":"noc 3","g":"B6 HF","v":121,"e":38,"l":"a,c"}
  ],
  "barD": [
{"c":"den 0","g":"AJ STD","v":53,"e":13,"l":""},{"c":"den 0","g":"AJ HF","v":53,"e":7,"l":""},{"c":"den 0","g":"B6 STD","v":53,"e":8,"l":""},{"c":"den 0","g":"B6 HF","v":50,"e":6,"l":""},
{"c":"noc 0","g":"AJ STD","v":18,"e":17,"l":""},{"c":"noc 0","g":"AJ HF","v":10,"e":17,"l":""},{"c":"noc 0","g":"B6 STD","v":17,"e":12,"l":""},{"c":"noc 0","g":"B6 HF","v":24,"e":7,"l":""},
{"c":"den 1","g":"AJ STD","v":48,"e":15,"l":""},{"c":"den 1","g":"AJ HF","v":44,"e":8,"l":""},{"c":"den 1","g":"B6 STD","v":48,"e":9,"l":""},{"c":"den 1","g":"B6 HF","v":51,"e":10,"l":""},
{"c":"noc 1","g":"AJ STD","v":-6,"e":11,"l":""},{"c":"noc 1","g":"AJ HF","v":71,"e":21,"l":"a"},{"c":"noc 1","g":"B6 STD","v":10,"e":14,"l":"b"},{"c":"noc 1","g":"B6 HF","v":92,"e":10,"l":"a,c"},
{"c":"den 2","g":"AJ STD","v":33,"e":9,"l":""},{"c":"den 2","g":"AJ HF","v":66,"e":18,"l":""},{"c":"den 2","g":"B6 STD","v":47,"e":10,"l":""},{"c":"den 2","g":"B6 HF","v":84,"e":11,"l":"a"},
{"c":"noc 2","g":"AJ STD","v":-4,"e":10,"l":""},{"c":"noc 2","g":"AJ HF","v":60,"e":24,"l":"a"},{"c":"noc 2","g":"B6 STD","v":12,"e":14,"l":""},{"c":"noc 2","g":"B6 HF","v":122,"e":9,"l":"a,b,c"},
{"c":"den 3","g":"AJ STD","v":35,"e":16,"l":""},{"c":"den 3","g":"AJ HF","v":66,"e":22,"l":""},{"c":"den 3","g":"B6 STD","v":42,"e":12,"l":""},{"c":"den 3","g":"B6 HF","v":92,"e":12,"l":"a"},
{"c":"noc 3","g":"AJ STD","v":-18,"e":22,"l":""},{"c":"noc 3","g":"AJ HF","v":53,"e":31,"l":""},{"c":"noc 3","g":"B6 STD","v":12,"e":14,"l":""},{"c":"noc 3","g":"B6 HF","v":125,"e":11,"l":"a,c"}
  ]
},
"bounds": "flush",
"columns": 2,
"spacing": {"row": 184, "column": 285},
"resolve": {"scale": {"color": "independent", "fill": "independent", "stroke": "independent"}, "legend": {"color": "independent"}},
"concat": [
  {"title": {"text": "A", "anchor": "start", "frame": "group", "fontSize": 24, "fontWeight": "normal", "dx": -7, "offset": 15.5},
   "width": 317, "height": 223,
   "resolve": {"axis": {"x": "independent"}},
   "layer": [
     {"data": {"name": "nights"}, "mark": {"type": "rect", "color": "#D3D3D3"},
      "encoding": {
       "x": {"field": "s", "type": "quantitative", "scale": {"domain": [0, 100], "nice": false}, "axis": {"title": "čas [dny]", "domain": false, "ticks": false, "labels": false, "titlePadding": 0}},
       "x2": {"field": "e"},
       "y": {"datum": -0.4, "type": "quantitative", "scale": {"domain": [-0.4, 0.8], "nice": false, "range": [217, 8]}, "axis": {"title": "Lₒₓ [mg]", "titleFontSize": 18, "titlePadding": 10, "labelOverlap": false, "tickCount": 12, "values": [-0.4, -0.2, 0, 0.2, 0.4, 0.6, 0.8], "labelExpr": "replace(format(datum.value, '.1f'), '\u2212', '-')"}},
       "y2": {"datum": 0.8}}},
     {"data": {"name": "lineA"}, "mark": {"type": "line", "strokeWidth": 2},
      "encoding": {
       "x": {"field": "h", "type": "quantitative", "axis": {"orient": "top", "title": "Lₒₓ 22°C", "domain": false, "ticks": false, "labels": false, "titleFontSize": 18, "titleBaseline": "alphabetic", "titleAlign": "center", "titleX": 158, "titleY": -22}},
       "y": {"field": "v", "type": "quantitative"},
       "color": {"field": "g", "type": "nominal", "scale": {"domain": ["AJ STD", "AJ HF", "B6 STD", "B6 HF"], "range": ["#F4A7E0", "#FF0000", "#93BFF7", "#000080"]},
        "legend": {"orient": "none", "legendX": 359, "legendY": 10, "title": null, "symbolType": "stroke", "symbolStrokeWidth": 3.5, "symbolSize": 484, "labelOffset": 12, "rowPadding": 8, "padding": 0}}}},
     {"data": {"values": [{}]}, "mark": {"type": "rule", "color": "black", "strokeWidth": 2}, "encoding": {"y": {"datum": 0}}},
     {"data": {"name": "tk"}, "mark": {"type": "rule", "color": "black", "strokeWidth": 2}, "encoding": {"x": {"field": "t", "type": "quantitative", "axis": null}, "y": {"datum": 0}, "y2": {"datum": -0.033}}},
     {"data": {"values": [{}]}, "mark": {"type": "rule", "color": "black", "strokeWidth": 2}, "encoding": {"x": {"datum": 26.1, "axis": null}, "y": {"datum": 0.68}, "y2": {"datum": 0.55}}},
     {"data": {"values": [{}]}, "mark": {"type": "point", "shape": "M-0.8,-1L0.8,-1L0,1Z", "filled": true, "color": "black", "size": 225, "opacity": 1}, "encoding": {"x": {"datum": 26.1, "axis": null}, "y": {"datum": 0.527}}},
     {"data": {"values": [{}]}, "mark": {"type": "text", "text": "cHF", "fontSize": 15, "color": "#111", "baseline": "middle"}, "encoding": {"x": {"datum": 26.1, "axis": null}, "y": {"datum": 0.766}}}
   ]
  },
  {"title": {"text": "B", "anchor": "start", "frame": "group", "fontSize": 24, "fontWeight": "normal", "dx": 7, "offset": 2},
   "width": 317, "height": 223,
   "resolve": {"axis": {"x": "independent"}},
   "layer": [
     {"data": {"name": "nights"}, "mark": {"type": "rect", "color": "#D3D3D3"},
      "encoding": {
       "x": {"field": "s", "type": "quantitative", "scale": {"domain": [-3.93, 100], "nice": false, "zero": false}, "axis": {"title": "čas [dny]", "domain": false, "ticks": false, "labels": false, "titlePadding": 3, "titleX": 163}},
       "x2": {"field": "e"},
       "y": {"datum": -0.4, "type": "quantitative", "scale": {"domain": [-0.4, 0.8], "nice": false}, "axis": {"title": "Lₒₓ [mg]", "titleFontSize": 18, "titlePadding": 8, "offset": -12, "labelOverlap": false, "tickCount": 12, "values": [-0.4, -0.2, 0, 0.2, 0.4, 0.6, 0.8], "labelExpr": "replace(format(datum.value, '.1f'), '\u2212', '-')"}},
       "y2": {"datum": 0.8}}},
     {"data": {"name": "lineB"}, "mark": {"type": "line", "strokeWidth": 2},
      "encoding": {
       "x": {"field": "h", "type": "quantitative", "axis": {"orient": "top", "title": "Lₒₓ 30°C", "domain": false, "ticks": false, "labels": false, "titleFontSize": 18, "titleBaseline": "alphabetic", "titleAlign": "center", "titleX": 164, "titleY": -32}},
       "y": {"field": "v", "type": "quantitative"},
       "color": {"field": "g", "type": "nominal", "scale": {"domain": ["AJ STD", "AJ HF", "B6 STD", "B6 HF"], "range": ["#F4A7E0", "#FF0000", "#93BFF7", "#000080"]},
        "legend": {"orient": "none", "legendX": 352, "legendY": 3, "title": null, "symbolType": "stroke", "symbolStrokeWidth": 3.5, "symbolSize": 484, "labelOffset": 11, "rowPadding": 6, "padding": 0}}}},
     {"data": {"values": [{}]}, "mark": {"type": "rule", "color": "black", "strokeWidth": 2}, "encoding": {"x": {"datum": 0, "axis": null}, "x2": {"datum": 100}, "y": {"datum": 0}}},
     {"data": {"name": "tk"}, "mark": {"type": "rule", "color": "black", "strokeWidth": 2}, "encoding": {"x": {"field": "t", "type": "quantitative", "axis": null}, "y": {"datum": 0}, "y2": {"datum": -0.032}}},
     {"data": {"values": [{}]}, "mark": {"type": "rule", "color": "black", "strokeWidth": 1.5}, "encoding": {"x": {"datum": 25.2, "axis": null}, "y": {"datum": 0.651}, "y2": {"datum": 0.52}}},
     {"data": {"values": [{}]}, "mark": {"type": "point", "shape": "M-0.78,-1L0.78,-1L0,1Z", "filled": true, "color": "black", "size": 225, "opacity": 1}, "encoding": {"x": {"datum": 25.2, "axis": null}, "y": {"datum": 0.485}}},
     {"data": {"values": [{}]}, "mark": {"type": "text", "text": "cHF", "fontSize": 15, "color": "#111", "baseline": "middle"}, "encoding": {"x": {"datum": 25.2, "axis": null}, "y": {"datum": 0.746}}}
   ]
  },
  {"title": {"text": "C", "anchor": "start", "frame": "group", "fontSize": 24, "fontWeight": "normal", "dx": -9, "offset": -1.5},
   "width": 306, "height": 209,
   "resolve": {"axis": {"x": "independent"}},
   "layer": [
     {"data": {"name": "nocs"}, "mark": {"type": "bar", "color": "#D3D3D3"},
      "encoding": {
       "x": {"field": "c", "type": "nominal", "scale": {"domain": ["den 0", "noc 0", "den 1", "noc 1", "den 2", "noc 2", "den 3", "noc 3"], "paddingInner": 0.04, "paddingOuter": 0.02},
        "axis": {"title": null, "labelAngle": -45, "labelFontSize": 15, "domainWidth": 2.5, "tickWidth": 2.5, "tickSize": 7, "labelPadding": 3}},
       "y": {"datum": -150, "type": "quantitative", "scale": {"domain": [-150, 250], "nice": false},
        "axis": {"title": "Lₒₓ [mg]", "titleFontSize": 18, "titlePadding": 8, "labelFontSize": 15, "labelOverlap": false, "tickCount": 10, "values": [-100, 0, 100, 200], "tickSize": 7, "domainWidth": 2.5, "tickWidth": 2.5, "labelExpr": "replace(format(datum.value, 'd'), '\u2212', '-')"}},
       "y2": {"datum": 258}}},
     {"data": {"name": "barC"},
      "transform": [{"calculate": "datum.v < 0 ? datum.v - datum.e : datum.v + datum.e", "as": "end"}, {"calculate": "max(datum.end, 0)", "as": "ly"}],
      "resolve": {"axis": {"x": "independent"}},
      "layer": [
       {"mark": {"type": "bar"},
        "encoding": {"x": {"field": "c", "type": "nominal", "axis": {"orient": "top", "title": "Lₒₓ 22°C", "domain": false, "ticks": false, "labels": false, "titleFontSize": 17, "titleBaseline": "alphabetic", "titleAlign": "center", "titleX": 152.5, "titleY": -31}},
         "xOffset": {"field": "g", "type": "nominal", "scale": {"domain": ["AJ STD", "AJ HF", "B6 STD", "B6 HF"], "paddingInner": 0.26, "paddingOuter": 0.4}},
         "y": {"field": "v", "type": "quantitative"},
         "color": {"field": "g", "type": "nominal", "scale": {"domain": ["AJ STD", "AJ HF", "B6 STD", "B6 HF"], "range": ["#F6ADE6", "#FF0000", "#95C1F8", "#0000C0"]},
          "legend": {"orient": "none", "legendX": 350, "legendY": 5, "title": null, "symbolType": "M-1,-0.45H1V0.45H-1Z", "symbolSize": 484, "symbolStrokeWidth": 0, "labelOffset": 13, "rowPadding": 9, "padding": 0}}}},
       {"mark": {"type": "rule", "strokeWidth": 1.5},
        "encoding": {"x": {"field": "c", "type": "nominal", "axis": null}, "xOffset": {"field": "g", "type": "nominal"}, "y": {"field": "v", "type": "quantitative"}, "y2": {"field": "end"},
         "stroke": {"field": "g", "type": "nominal", "scale": {"domain": ["AJ STD", "AJ HF", "B6 STD", "B6 HF"], "range": ["#F6ADE6", "#FF0000", "#95C1F8", "#0000C0"]}, "legend": null}}},
       {"mark": {"type": "tick", "thickness": 1.5, "size": 5},
        "encoding": {"x": {"field": "c", "type": "nominal", "axis": null}, "xOffset": {"field": "g", "type": "nominal"}, "y": {"field": "end", "type": "quantitative"},
         "fill": {"field": "g", "type": "nominal", "scale": {"domain": ["AJ STD", "AJ HF", "B6 STD", "B6 HF"], "range": ["#F6ADE6", "#FF0000", "#95C1F8", "#0000C0"]}, "legend": null}}},
       {"transform": [{"filter": "datum.l != ''"}],
        "mark": {"type": "text", "fontSize": 13.5, "color": "#333", "baseline": "middle", "dy": -11},
        "encoding": {"x": {"field": "c", "type": "nominal", "axis": null}, "xOffset": {"field": "g", "type": "nominal"}, "y": {"field": "ly", "type": "quantitative"}, "text": {"field": "l"}}}
      ]},
     {"data": {"values": [{}]}, "mark": {"type": "rule", "color": "black", "strokeWidth": 3}, "encoding": {"y": {"datum": 0}}}
   ]
  },
  {"title": {"text": "D", "anchor": "start", "frame": "group", "fontSize": 24, "fontWeight": "normal", "dx": -11, "offset": 1},
   "width": 303, "height": 216,
   "resolve": {"axis": {"x": "independent"}},
   "layer": [
     {"data": {"name": "nocs"}, "mark": {"type": "bar", "color": "#D3D3D3"},
      "encoding": {
       "x": {"field": "c", "type": "nominal", "scale": {"domain": ["den 0", "noc 0", "den 1", "noc 1", "den 2", "noc 2", "den 3", "noc 3"], "paddingInner": 0.04, "paddingOuter": 0.02},
        "axis": {"title": null, "labelAngle": -45, "labelFontSize": 15, "domainWidth": 2.5, "tickWidth": 2.5, "tickSize": 7, "labelPadding": 3}},
       "y": {"datum": -150, "type": "quantitative", "scale": {"domain": [-150, 250], "nice": false, "range": [216, 19]},
        "axis": {"title": "Lₒₓ [mg]", "titleFontSize": 18, "titlePadding": 8, "labelFontSize": 15, "labelOverlap": false, "tickCount": 10, "values": [-100, 0, 100, 200], "tickSize": 7, "domainWidth": 2.5, "tickWidth": 2.5, "labelExpr": "replace(format(datum.value, 'd'), '\u2212', '-')"}},
       "y2": {"datum": 270}}},
     {"data": {"name": "barD"},
      "transform": [{"calculate": "datum.v < 0 ? datum.v - datum.e : datum.v + datum.e", "as": "end"}, {"calculate": "max(datum.end, 0)", "as": "ly"}],
      "resolve": {"axis": {"x": "independent"}},
      "layer": [
       {"mark": {"type": "bar"},
        "encoding": {"x": {"field": "c", "type": "nominal", "axis": {"orient": "top", "title": "Lₒₓ 30°C", "domain": false, "ticks": false, "labels": false, "titleFontSize": 17, "titleBaseline": "alphabetic", "titleAlign": "center", "titleX": 151.5, "titleY": -13}},
         "xOffset": {"field": "g", "type": "nominal", "scale": {"domain": ["AJ STD", "AJ HF", "B6 STD", "B6 HF"], "paddingInner": 0.26, "paddingOuter": 0.4}},
         "y": {"field": "v", "type": "quantitative"},
         "color": {"field": "g", "type": "nominal", "scale": {"domain": ["AJ STD", "AJ HF", "B6 STD", "B6 HF"], "range": ["#F6ADE6", "#FF0000", "#95C1F8", "#0000C0"]},
          "legend": {"orient": "none", "legendX": 349, "legendY": 24, "title": null, "symbolType": "M-1,-0.5H1V0.5H-1Z", "symbolSize": 484, "symbolStrokeWidth": 0, "labelOffset": 11, "rowPadding": 7, "padding": 0}}}},
       {"mark": {"type": "rule", "strokeWidth": 1.5},
        "encoding": {"x": {"field": "c", "type": "nominal", "axis": null}, "xOffset": {"field": "g", "type": "nominal"}, "y": {"field": "v", "type": "quantitative"}, "y2": {"field": "end"},
         "stroke": {"field": "g", "type": "nominal", "scale": {"domain": ["AJ STD", "AJ HF", "B6 STD", "B6 HF"], "range": ["#F6ADE6", "#FF0000", "#95C1F8", "#0000C0"]}, "legend": null}}},
       {"mark": {"type": "tick", "thickness": 1.5, "size": 5},
        "encoding": {"x": {"field": "c", "type": "nominal", "axis": null}, "xOffset": {"field": "g", "type": "nominal"}, "y": {"field": "end", "type": "quantitative"},
         "fill": {"field": "g", "type": "nominal", "scale": {"domain": ["AJ STD", "AJ HF", "B6 STD", "B6 HF"], "range": ["#F6ADE6", "#FF0000", "#95C1F8", "#0000C0"]}, "legend": null}}},
       {"transform": [{"filter": "datum.l != ''"}],
        "mark": {"type": "text", "fontSize": 13.5, "color": "#333", "baseline": "middle", "dy": -10},
        "encoding": {"x": {"field": "c", "type": "nominal", "axis": null}, "xOffset": {"field": "g", "type": "nominal"}, "y": {"field": "ly", "type": "quantitative"}, "text": {"field": "l"}}}
      ]},
     {"data": {"values": [{}]}, "mark": {"type": "rule", "color": "black", "strokeWidth": 3}, "encoding": {"y": {"datum": 0}}}
   ]
  }
]
}
